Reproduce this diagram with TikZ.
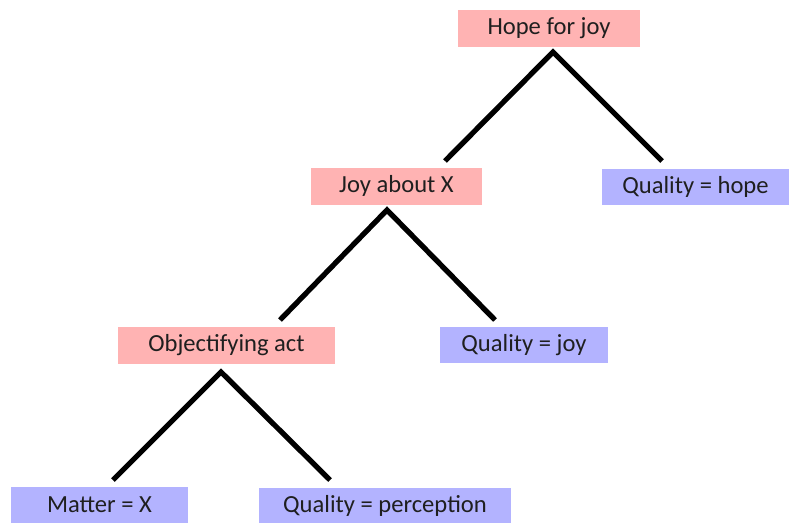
\documentclass[tikz,border=0pt]{standalone}
\usepackage{fontspec}
\setmainfont{Carlito}
\definecolor{actpink}{RGB}{255,179,179}
\definecolor{partblue}{RGB}{179,179,255}

\begin{document}
\begin{tikzpicture}[x=0.02cm,y=-0.02cm]
    \tikzstyle{every node}=[inner sep=0pt, font=\fontsize{14}{17}\selectfont, text=black!88]
    \tikzstyle{act}=[fill=actpink, minimum height=0.74cm]
    \tikzstyle{part}=[fill=partblue, minimum height=0.72cm]
    \tikzstyle{branch}=[black, line width=3pt]

    \useasboundingbox (0,0) rectangle (790,522);

    \node[act, minimum width=3.64cm] (hope) at (549,28.5) {Hope for joy};
    \node[act, minimum width=3.42cm] (joy) at (396.5,186) {Joy about X};
    \node[part, minimum width=3.74cm] (qhope) at (695.5,186.5) {Quality = hope};
    \node[act, minimum width=4.34cm] (obj) at (226.5,345.5) {Objectifying act};
    \node[part, minimum width=3.36cm] (qjoy) at (524,345) {Quality = joy};
    \node[part, minimum width=3.54cm] (matter) at (99.5,504.5) {Matter = X};
    \node[part, minimum width=5.04cm] (qperc) at (385,505.5) {Quality = perception};

    \coordinate (hope-tip) at (553,52);
    \coordinate (joy-end) at (445,161);
    \coordinate (qhope-end) at (662,161);
    \coordinate (joy-tip) at (387,210);
    \coordinate (obj-end) at (280,320);
    \coordinate (qjoy-end) at (495,320);
    \coordinate (obj-tip) at (221,372);
    \coordinate (matter-end) at (113,480);
    \coordinate (qperc-end) at (330,480);

    \draw[branch] (joy-end) -- (hope-tip) -- (qhope-end);
    \draw[branch] (obj-end) -- (joy-tip) -- (qjoy-end);
    \draw[branch] (matter-end) -- (obj-tip) -- (qperc-end);
\end{tikzpicture}
\end{document}
